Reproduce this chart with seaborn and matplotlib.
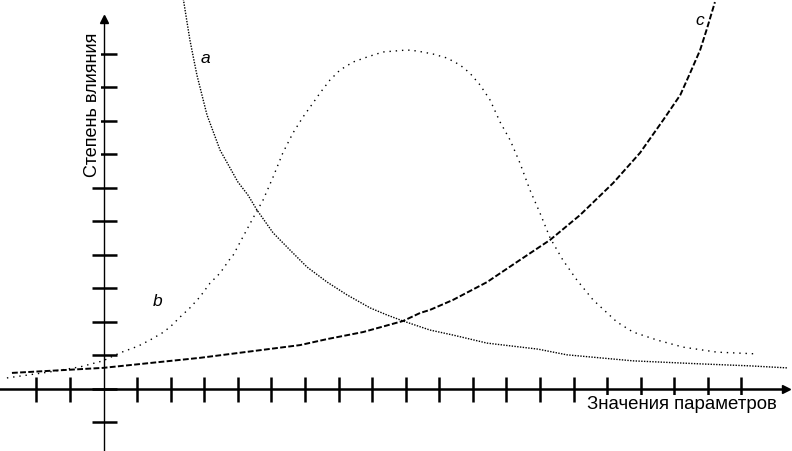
import matplotlib
matplotlib.use("Agg")
import matplotlib.pyplot as plt
import seaborn as sns
import pandas as pd

# curve a - falling, fine dotted
a_x = [2.37, 2.57, 2.78, 3.08, 3.47, 4.00, 4.30, 4.57, 5.05, 5.55, 6.06, 6.66, 7.25,
       7.94, 8.44, 8.92, 9.72, 10.41, 11.42, 12.94, 13.80, 15.77, 17.77, 19.26, 20.36]
a_y = [11.67, 10.42, 9.37, 8.18, 7.13, 6.18, 5.79, 5.34, 4.66, 4.15, 3.64, 3.19, 2.81,
       2.42, 2.21, 2.03, 1.76, 1.61, 1.37, 1.19, 1.02, 0.84, 0.75, 0.69, 0.63]

# curve b - bell, sparse dotted
b_x = [-2.88, -1.60, -0.70, -0.02, 0.49, 1.03, 1.38, 1.74, 1.98, 2.28, 2.57, 2.87, 3.17,
       3.47, 3.74, 3.83, 4.45, 4.75, 5.05, 5.34, 5.64, 5.94, 6.24, 6.45, 6.74, 7.04, 7.43,
       7.85, 8.32, 9.04, 9.34, 9.81, 10.23, 10.62, 10.91, 11.21, 11.51, 11.81, 12.11, 12.40,
       12.70, 13.00, 13.30, 13.68, 14.10, 14.58, 15.29, 15.77, 16.49, 17.26, 18.27, 19.40]
b_y = [0.33, 0.51, 0.66, 0.84, 1.08, 1.28, 1.46, 1.67, 1.85, 2.15, 2.42, 2.75, 3.16,
       3.46, 3.85, 3.94, 5.10, 5.64, 6.33, 7.05, 7.64, 8.12, 8.54, 8.84, 9.22, 9.52, 9.76,
       9.91, 10.06, 10.12, 10.09, 10.00, 9.88, 9.67, 9.43, 9.08, 8.63, 7.97, 7.43, 6.75,
       5.94, 5.25, 4.51, 3.85, 3.25, 2.66, 2.00, 1.70, 1.46, 1.25, 1.10, 1.05]

# curve c - rising, dashed
c_x = [-2.73, -0.02, 2.87, 5.85, 6.66, 7.73, 8.92, 9.43, 9.72, 10.41, 11.42, 12.40,
       13.30, 14.19, 15.18, 15.98, 16.67, 17.18, 17.47, 17.77, 17.98, 18.21]
c_y = [0.48, 0.63, 0.93, 1.31, 1.49, 1.70, 2.03, 2.27, 2.36, 2.66, 3.19, 3.85,
       4.45, 5.19, 6.15, 7.05, 8.03, 8.78, 9.43, 10.12, 10.78, 11.55]

x_ticks = [-2, -1] + list(range(1, 20))
y_ticks = list(range(-1, 11))

sns.set_theme(style="white")
plt.rcParams["font.family"] = ["Liberation Sans", "DejaVu Sans"]
plt.rcParams["text.color"] = "black"

fig = plt.figure(figsize=(7.92, 4.51), dpi=100)
ax = fig.add_axes([0, 0, 1, 1])

df_a = pd.DataFrame({"x": a_x, "y": a_y})
df_b = pd.DataFrame({"x": b_x, "y": b_y})
df_c = pd.DataFrame({"x": c_x, "y": c_y})
sns.lineplot(data=df_a, x="x", y="y", ax=ax, color="black", lw=1.0,
             linestyle=(0, (1, 1)), sort=False)
sns.lineplot(data=df_b, x="x", y="y", ax=ax, color="black", lw=1.0,
             linestyle=(0, (1, 3.5)), sort=False)
sns.lineplot(data=df_c, x="x", y="y", ax=ax, color="black", lw=1.4,
             linestyle=(0, (3, 1.2)), sort=False)

ax.set_xlim(-3.086, 20.506)
ax.set_ylim(-1.851, 11.612)

for s in ["top", "right"]:
    ax.spines[s].set_visible(False)
ax.spines["left"].set_position(("data", 0))
ax.spines["bottom"].set_position(("data", 0))
ax.spines["left"].set_bounds(-1.851, 11.0)
ax.spines["bottom"].set_bounds(-3.086, 20.3)
ax.spines["left"].set_linewidth(1.0)
ax.spines["bottom"].set_linewidth(1.8)
ax.spines["left"].set_color("black")
ax.spines["bottom"].set_color("black")

ax.set_xticks(x_ticks)
ax.set_yticks(y_ticks)
ax.tick_params(axis="both", direction="inout", length=18, width=1.8,
               color="black", labelbottom=False, labelleft=False,
               bottom=True, left=True)
ax.set_xlabel("")
ax.set_ylabel("")

# arrow heads
ax.plot(20.33, 0, ">", color="black", ms=6, clip_on=False)
ax.plot(0, 11.04, "^", color="black", ms=6, clip_on=False)

ax.text(14.40, -0.45, "Значения параметров", fontsize=13.4, ha="left", va="center",
        color="black", zorder=5,
        bbox=dict(facecolor="white", edgecolor="none", pad=0.3))
ax.text(-0.345, 8.48, "Степень влияния", fontsize=13, rotation=90,
        ha="center", va="center", color="black", zorder=5,
        bbox=dict(facecolor="white", edgecolor="none", pad=0.5))
ax.text(3.02, 9.88, "a", fontsize=12.5, style="italic", ha="center", va="center",
        color="black")
ax.text(1.62, 2.60, "b", fontsize=12.5, style="italic", ha="center", va="center",
        color="black")
ax.text(17.75, 11.0, "c", fontsize=12.5, style="italic", ha="center", va="center",
        color="black")

fig.savefig("out.png", dpi=100)
